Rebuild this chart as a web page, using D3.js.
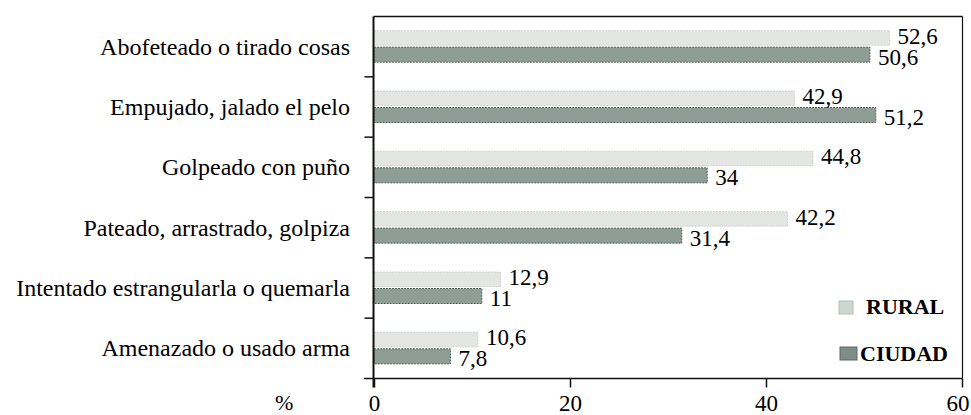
<!DOCTYPE html>
<html><head><meta charset="utf-8">
<script src="https://cdn.jsdelivr.net/npm/d3@7"></script>
</head><body style="margin:0">
<svg id="c" width="971" height="415"></svg>
<script>
const categories = ["Abofeteado o tirado cosas","Empujado, jalado el pelo","Golpeado con puño","Pateado, arrastrado, golpiza","Intentado estrangularla o quemarla","Amenazado o usado arma"];
const rural = [52.6, 42.9, 44.8, 42.2, 12.9, 10.6];
const ciudad = [50.6, 51.2, 34, 31.4, 11, 7.8];
const ruralLabels = ["52,6","42,9","44,8","42,2","12,9","10,6"];
const ciudadLabels = ["50,6","51,2","34","31,4","11","7,8"];
const xTicks = [0, 20, 40, 60];
const seriesNames = ["RURAL","CIUDAD"];

const svg = d3.select("#c");
const L = 373.5, R = 962.5, T = 16.5, B = 378.5;
const x = d3.scaleLinear().domain([0, 60]).range([L + 0.5, R - 0.5]);
const y = d3.scaleBand().domain(categories).range([T, B]);
const serifFont = "Liberation Serif";

function txt(sel, size){ return sel.style("font-family", serifFont).attr("font-size", size); }

// frame
svg.append("line").attr("x1",L).attr("x2",R).attr("y1",T).attr("y2",T).attr("stroke","#111").attr("stroke-width",1.5);
svg.append("line").attr("x1",R).attr("x2",R).attr("y1",T).attr("y2",B).attr("stroke","#111").attr("stroke-width",1.2);

// bars
const g = svg.append("g");
categories.forEach((c, i) => {
  const cy = y(c) + y.bandwidth() / 2;
  g.append("rect").attr("x", x(0)).attr("y", cy - 16).attr("width", x(rural[i]) - x(0)).attr("height", 14.5)
    .attr("fill", "#e3e6e3").attr("stroke","#c4cbc6").attr("stroke-width",0.8).attr("stroke-dasharray","2,1");
  g.append("rect").attr("x", x(0)).attr("y", cy + 0.5).attr("width", x(ciudad[i]) - x(0)).attr("height", 15)
    .attr("fill", "#8e9d96").attr("stroke","#56625d").attr("stroke-width",1).attr("stroke-dasharray","2,1");
  txt(g.append("text").attr("x", x(rural[i]) + 8).attr("y", cy - 3).text(ruralLabels[i]), 23);
  txt(g.append("text").attr("x", x(ciudad[i]) + 8).attr("y", cy + 18).text(ciudadLabels[i]), 23);
  txt(g.append("text").attr("x", 350).attr("y", cy + 8).attr("text-anchor","end").text(c), 24);
});

// left axis
const yAx = svg.append("g");
yAx.append("line").attr("x1",L).attr("x2",L).attr("y1",T).attr("y2",B+9).attr("stroke","#111").attr("stroke-width",2);
categories.slice(1).forEach(c => {
  yAx.append("line").attr("x1",L-9).attr("x2",L).attr("y1",y(c)).attr("y2",y(c)).attr("stroke","#111").attr("stroke-width",1.5);
});

// bottom axis
const xAx = svg.append("g").attr("transform",`translate(0,${B})`)
  .call(d3.axisBottom(x).tickValues(xTicks).tickSize(9).tickFormat(d3.format("d")));
xAx.attr("font-family", null).attr("font-size", null);
xAx.select(".domain").remove();
xAx.append("line").attr("x1",364).attr("x2",R).attr("y1",0).attr("y2",0).attr("stroke","#111").attr("stroke-width",1.5);
xAx.selectAll(".tick line").attr("stroke","#111").attr("stroke-width",1.5);
txt(xAx.selectAll(".tick text").attr("dy",null).attr("y",32).attr("fill","#000"), 23);
xAx.selectAll(".tick text").filter(d => d === 60).attr("text-anchor","end").attr("x",7);
txt(svg.append("text").attr("x",275).attr("y",410).text("%"), 22);

// legend
const leg = [{fill:"#cdd7d1", stroke:"#b3beb7", x:839, y:301, w:14, h:13, tx:866, ty:314},
             {fill:"#7f8d87", stroke:"#5d6963", x:840, y:347, w:17, h:13, tx:860, ty:361}];
leg.forEach((d, i) => {
  svg.append("rect").attr("x",d.x).attr("y",d.y).attr("width",d.w).attr("height",d.h).attr("fill",d.fill).attr("stroke",d.stroke);
  txt(svg.append("text").attr("x",d.tx).attr("y",d.ty).text(seriesNames[i]).attr("font-weight","bold"), 22);
});
</script>
</body></html>
